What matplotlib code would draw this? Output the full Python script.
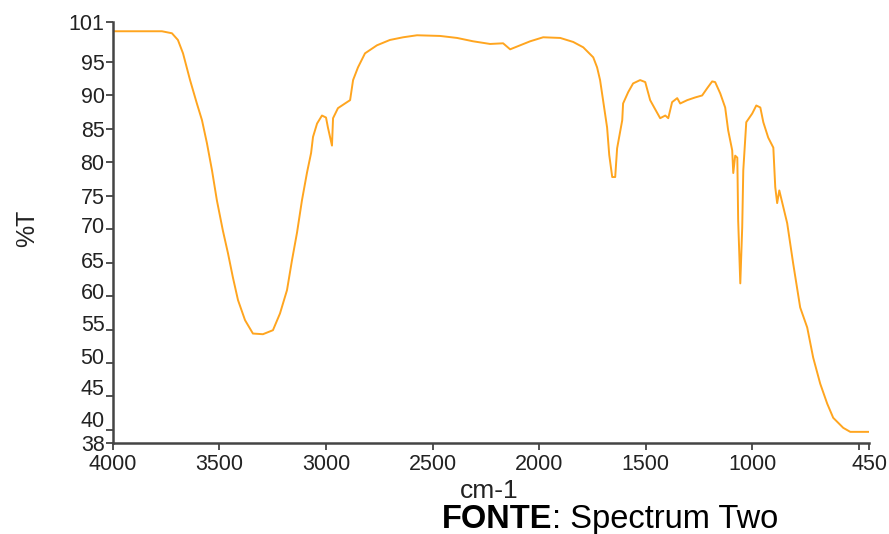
import numpy as np
import matplotlib
matplotlib.use("Agg")
from matplotlib import pyplot as plt
import matplotlib.transforms as mtransforms

plt.rcParams['font.family'] = ['Liberation Sans', 'DejaVu Sans']

# FTIR spectrum (wavenumber cm-1, %T)
wavenumber = [4000, 3770, 3723, 3695, 3671, 3638, 3606, 3582, 3559, 3535,
              3512, 3484, 3460, 3437, 3413, 3380, 3343, 3296, 3249, 3216,
              3183, 3160, 3136, 3113, 3089, 3070, 3061, 3042, 3019, 3000,
              2991, 2972, 2967, 2944, 2911, 2887, 2873, 2850, 2817, 2761,
              2700, 2638, 2573, 2465, 2385, 2310, 2230, 2169, 2136, 2089,
              2042, 1981, 1901, 1840, 1793, 1746, 1728, 1714, 1700, 1681,
              1671, 1657, 1643, 1634, 1610, 1606, 1582, 1559, 1526, 1502,
              1479, 1460, 1432, 1408, 1394, 1376, 1352, 1338, 1305, 1268,
              1235, 1211, 1188, 1174, 1150, 1127, 1113, 1094, 1089, 1080,
              1070, 1066, 1056, 1047, 1042, 1028, 1000, 981, 962, 948,
              925, 901, 892, 883, 873, 836, 808, 775, 742, 714,
              681, 648, 620, 573, 540, 450]
transmittance = [99.6, 99.6, 99.3, 98.3, 96.3, 92.3, 88.8, 86.3, 82.9, 78.8,
                 74.3, 69.8, 66.4, 62.8, 59.4, 56.4, 54.4, 54.3, 54.9, 57.4,
                 60.9, 65.3, 69.5, 74.3, 78.5, 81.4, 83.8, 85.8, 87.0, 86.7,
                 85.2, 82.5, 86.6, 88.1, 88.8, 89.3, 92.3, 94.2, 96.3, 97.5,
                 98.3, 98.7, 99.0, 98.9, 98.6, 98.1, 97.7, 97.8, 96.9, 97.5,
                 98.1, 98.7, 98.6, 98.0, 97.2, 95.7, 94.2, 92.3, 89.3, 85.2,
                 81.1, 77.8, 77.8, 82.1, 86.3, 88.8, 90.5, 91.8, 92.3, 92.0,
                 89.3, 88.2, 86.6, 87.0, 86.6, 89.0, 89.6, 88.8, 89.3, 89.7,
                 90.0, 91.1, 92.1, 92.0, 90.3, 88.2, 84.8, 81.8, 78.4, 81.0,
                 80.7, 71.3, 61.9, 70.3, 78.8, 86.0, 87.3, 88.5, 88.2, 86.0,
                 83.7, 82.2, 76.3, 73.9, 75.8, 70.9, 64.9, 58.3, 55.3, 50.8,
                 46.9, 43.9, 41.8, 40.3, 39.7, 39.7]

xticks = [4000, 3500, 3000, 2500, 2000, 1500, 1000, 500, 450]
xtick_labels = ['4000', '3500', '3000', '2500', '2000', '1500', '1000', '', '450']
yticks = [38, 40, 45, 50, 55, 60, 65, 70, 75, 80, 85, 90, 95, 101]
# the original software nudges the lower labels upward (in points)
label_nudge = {40: 8, 45: 7, 50: 5, 55: 5, 60: 4, 65: 2, 70: 3}

fig = plt.figure(figsize=(8.89, 5.34), dpi=100)
ax = fig.add_axes([0.127, 0.170, 0.851, 0.789])

ax.plot(wavenumber, transmittance, color='#ffa51f', lw=1.4)

ax.set_xlim(4000, 450)
ax.set_ylim(38, 101)
ax.set_xticks(xticks)
ax.set_xticklabels(xtick_labels)
ax.set_yticks(yticks)
ax.set_yticklabels([str(v) for v in yticks])

for s in ['top', 'right']:
    ax.spines[s].set_visible(False)
for s in ['left', 'bottom']:
    ax.spines[s].set_color('#444444')
    ax.spines[s].set_linewidth(1.8)

ax.tick_params(axis='both', direction='out', length=5, width=1.2,
               color='#333333', labelsize=15.5, labelcolor='#222222', pad=1)
ax.tick_params(axis='x', pad=2.5)

ax.set_ylabel('%T', fontsize=18, color='#222222')
ax.set_xlabel('cm-1', fontsize=19, color='#222222')
ax.xaxis.set_label_coords(0.497, -0.085)
ax.yaxis.set_label_coords(-0.097, 0.51)

fig.canvas.draw()
for lbl, v in zip(ax.get_yticklabels(), yticks):
    dy = label_nudge.get(v, 0)
    if dy:
        lbl.set_transform(lbl.get_transform() +
                          mtransforms.ScaledTranslation(0, dy / 72, fig.dpi_scale_trans))

t1 = fig.text(0.497, 0.027, 'FONTE', fontsize=23.5, fontweight='bold',
              color='black', va='center', ha='left')
fig.canvas.draw()
ax.annotate(': Spectrum Two', xy=(1, 0.5), xycoords=t1, fontsize=23.5,
            color='black', va='center', ha='left', annotation_clip=False)

fig.savefig('out.png', dpi=100)
